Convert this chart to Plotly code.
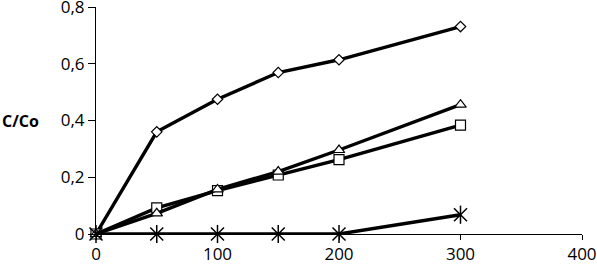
import plotly.graph_objects as go

time = [0, 50, 100, 150, 200, 300]
diamond_vals = [0, 0.360, 0.475, 0.569, 0.614, 0.731]
triangle_vals = [0, 0.073, 0.157, 0.220, 0.296, 0.456]
square_vals = [0, 0.092, 0.153, 0.208, 0.262, 0.384]
star_vals = [0, 0, 0, 0, 0, 0.068]

x_ticks = [0, 100, 200, 300, 400]
y_ticks = [0, 0.2, 0.4, 0.6, 0.8]
y_ticklabels = ["0", "0,2", "0,4", "0,6", "0,8"]

fig = go.Figure()

def line_trace(y, symbol, size):
    return go.Scatter(
        x=time, y=y, mode="lines+markers", cliponaxis=False,
        line=dict(color="black", width=3.4),
        marker=dict(symbol=symbol, size=size, color="white",
                    line=dict(color="black", width=1.2)),
        showlegend=False,
    )

fig.add_trace(line_trace(diamond_vals, "diamond", 8))
fig.add_trace(line_trace(square_vals, "square", 10))
fig.add_trace(line_trace(triangle_vals, "triangle-up", 10))
fig.add_trace(go.Scatter(
    x=time, y=star_vals, mode="lines", cliponaxis=False,
    line=dict(color="black", width=3.4), showlegend=False))
fig.add_trace(go.Scatter(
    x=time, y=star_vals, mode="markers", cliponaxis=False,
    marker=dict(symbol="x-thin-open", size=13, color="black",
                line=dict(color="black", width=1.5)),
    showlegend=False))
fig.add_trace(go.Scatter(
    x=time, y=star_vals, mode="markers", cliponaxis=False,
    marker=dict(symbol="line-ns-open", size=13, color="black",
                line=dict(color="black", width=1.5)),
    showlegend=False))

font = dict(family="Open Sans, DejaVu Sans, sans-serif", size=17, color="black")

fig.update_layout(
    width=597, height=268,
    margin=dict(l=96, r=15, t=7, b=34, autoexpand=False),
    paper_bgcolor="white", plot_bgcolor="white",
    font=font,
    xaxis=dict(range=[0, 400], tickvals=x_ticks, ticks="outside", ticklen=5,
               tickwidth=1, tickcolor="black", showline=True, linecolor="black",
               linewidth=1, showgrid=False, zeroline=False, fixedrange=True,
               automargin=False, ticklabeloverflow="allow"),
    yaxis=dict(range=[0, 0.8], tickvals=y_ticks, ticktext=y_ticklabels,
               ticks="outside", ticklen=7, tickwidth=1, tickcolor="black",
               showline=True, linecolor="black", linewidth=1, showgrid=False,
               zeroline=False, fixedrange=True, automargin=False,
               ticklabeloverflow="allow"),
    annotations=[dict(text="<b>C/Co</b>", x=-96/486, xref="paper",
                      xanchor="left", y=0.4, yref="y", showarrow=False,
                      font=dict(family="Open Sans, DejaVu Sans, sans-serif", size=16, color="black"))],
)

fig.write_html("out.html", config={"displayModeBar": False},
               post_script="document.body.style.margin='0';document.body.style.overflow='hidden';")
